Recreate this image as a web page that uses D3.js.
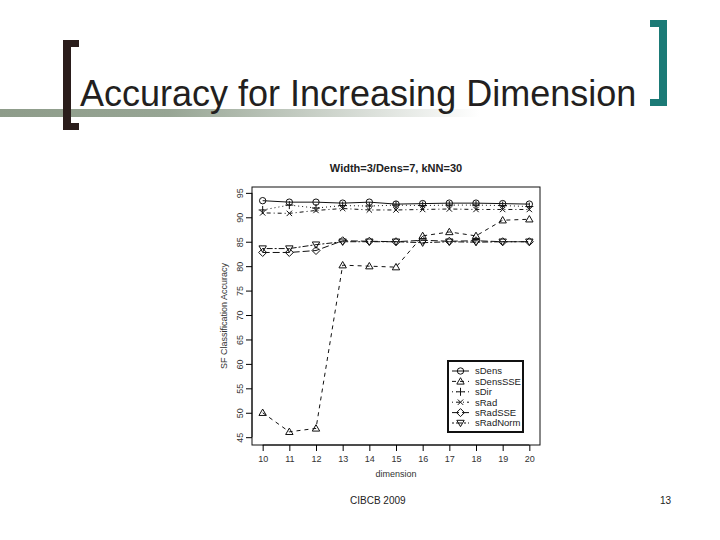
<!DOCTYPE html>
<html><head><meta charset="utf-8">
<script src="https://cdn.jsdelivr.net/npm/d3@7"></script>
<style>body{margin:0;background:#fff}svg{display:block}</style>
</head><body>
<svg id="c" width="720" height="540"></svg>
<script>
const dims = [10,11,12,13,14,15,16,17,18,19,20];
const sDens    = [93.4,93.1,93.1,92.9,93.1,92.7,92.8,92.9,92.9,92.8,92.7];
const sDensSSE = [50.0,46.1,46.8,80.2,80.0,79.8,86.2,87.0,86.2,89.4,89.6];
const sDir     = [91.5,92.5,91.9,92.4,92.3,92.5,92.4,92.5,92.5,92.4,92.2];
const sRad     = [90.9,90.8,91.4,91.8,91.5,91.5,91.6,91.7,91.6,91.6,91.6];
const sRadSSE  = [82.8,82.8,83.2,85.2,85.1,85.0,85.3,85.1,85.2,85.0,85.0];
const sRadNorm = [83.6,83.6,84.4,85.0,85.0,85.0,84.8,85.0,84.9,85.0,85.0];
const seriesNames = ["sDens","sDensSSE","sDir","sRad","sRadSSE","sRadNorm"];
const yTicks = [45,50,55,60,65,70,75,80,85,90,95];
const slideTitle = "Accuracy for Increasing Dimension";
const chartTitle = "Width=3/Dens=7, kNN=30";
const yLabel = "SF Classification Accuracy";
const xLabel = "dimension";
const footerLeft = "CIBCB 2009";
const footerRight = "13";

const seriesValues = [sDens,sDensSSE,sDir,sRad,sRadSSE,sRadNorm];
const dashes = [null,"4,4","1,3","1,3,4,3","7,3","2,2,6,2"];
const shapes = ["circle","triUp","plus","cross","diamond","triDown"];

const svg = d3.select("#c");

// Slide decoration
const defs = svg.append("defs");
const grad = defs.append("linearGradient").attr("id","bar").attr("x1","0").attr("x2","1");
grad.append("stop").attr("offset","0").attr("stop-color","#8e9c8a");
grad.append("stop").attr("offset","0.35").attr("stop-color","#97a594");
grad.append("stop").attr("offset","1").attr("stop-color","#ffffff");
svg.append("rect").attr("x",0).attr("y",109).attr("width",480).attr("height",8).attr("fill","url(#bar)");
// left bracket
const lb = "#2a1d1b";
svg.append("rect").attr("x",63).attr("y",40).attr("width",8).attr("height",90).attr("fill",lb);
svg.append("rect").attr("x",63).attr("y",40).attr("width",16).attr("height",7).attr("fill",lb);
svg.append("rect").attr("x",63).attr("y",123).attr("width",16).attr("height",7).attr("fill",lb);
// right bracket
const rb = "#1b7a76";
svg.append("rect").attr("x",659).attr("y",20).attr("width",8).attr("height",86).attr("fill",rb);
svg.append("rect").attr("x",650).attr("y",20).attr("width",17).attr("height",7).attr("fill",rb);
svg.append("rect").attr("x",650).attr("y",99).attr("width",17).attr("height",7).attr("fill",rb);

svg.append("text").attr("x",80).attr("y",106).attr("font-family","Liberation Sans, Arial, sans-serif")
  .attr("font-size",36).attr("fill","#231f20").text(slideTitle);

svg.append("text").attr("x",350).attr("y",504).attr("font-family","Liberation Sans, Arial, sans-serif")
  .attr("font-size",10).attr("fill","#222").text(footerLeft);
svg.append("text").attr("x",660).attr("y",504).attr("font-family","Liberation Sans, Arial, sans-serif")
  .attr("font-size",10).attr("fill","#222").text(footerRight);

// Chart
const L=252, R=540, T=187, B=445;
const x = d3.scaleLinear().domain([9.6,20.4]).range([L,R]);
const y = d3.scaleLinear().domain([43.4,96.2]).range([B,T]);
const g = svg.append("g").attr("font-family","Liberation Sans, Arial, sans-serif");

g.append("text").attr("x",396).attr("y",172).attr("text-anchor","middle").attr("font-size",11)
  .attr("font-weight","bold").attr("fill","#222").text(chartTitle);

g.append("rect").attr("x",L).attr("y",T).attr("width",R-L).attr("height",B-T)
  .attr("fill","none").attr("stroke","#111").attr("stroke-width",1);

const xAxis = g.append("g").attr("transform",`translate(0,${B})`)
  .call(d3.axisBottom(x).tickValues(dims).tickFormat(d3.format("d")).tickSize(6).tickPadding(5));
xAxis.select(".domain").attr("d",`M${x(10)},0H${x(20)}`).attr("stroke","#111");
xAxis.selectAll("text").attr("font-size",9).attr("fill","#333").attr("font-family","Liberation Sans, Arial, sans-serif");

const yAxis = g.append("g").attr("transform",`translate(${L},0)`)
  .call(d3.axisLeft(y).tickValues(yTicks).tickSize(6).tickFormat(d3.format("d")));
yAxis.select(".domain").attr("d",`M0,${y(45)}V${y(95)}`).attr("stroke","#111");
yAxis.selectAll("text").attr("font-size",9).attr("fill","#333").attr("font-family","Liberation Sans, Arial, sans-serif")
  .attr("text-anchor","middle").attr("dy","0").attr("x",0)
  .attr("transform",d=>`translate(-12,${0}) rotate(-90)`);
yAxis.selectAll(".tick text").each(function(){ d3.select(this).attr("y",0).attr("dy","0.35em"); });

g.append("text").attr("transform",`translate(227,${(T+B)/2}) rotate(-90)`).attr("text-anchor","middle")
  .attr("font-size",9).attr("fill","#333").text(yLabel);
g.append("text").attr("x",396).attr("y",477).attr("text-anchor","middle")
  .attr("font-size",9).attr("fill","#333").text(xLabel);

function symbol(sel, shape, cx, cy){
  const s=3.2;
  const p = sel.append("path").attr("fill","none").attr("stroke","#111").attr("stroke-width",1)
    .attr("transform",`translate(${cx},${cy})`);
  if(shape==="circle") p.attr("d",d3.arc()({innerRadius:0,outerRadius:s,startAngle:0,endAngle:2*Math.PI}));
  if(shape==="triUp") p.attr("d",`M0,${-s-0.5}L${s+0.5},${s-0.5}L${-s-0.5},${s-0.5}Z`);
  if(shape==="triDown") p.attr("d",`M0,${s+0.5}L${s+0.5},${-s+0.5}L${-s-0.5},${-s+0.5}Z`);
  if(shape==="plus") p.attr("d",`M${-s-0.8},0H${s+0.8}M0,${-s-0.8}V${s+0.8}`);
  if(shape==="cross") p.attr("d",`M${-s+0.5},${-s+0.5}L${s-0.5},${s-0.5}M${-s+0.5},${s-0.5}L${s-0.5},${-s+0.5}`);
  if(shape==="diamond") p.attr("d",`M0,${-s-0.8}L${s+0.8},0L0,${s+0.8}L${-s-0.8},0Z`);
}

const line = d3.line().x((d,i)=>x(dims[i])).y(d=>y(d));
seriesValues.forEach((vals,k)=>{
  const sg = g.append("g");
  sg.append("path").attr("d",line(vals)).attr("fill","none").attr("stroke","#111")
    .attr("stroke-width",1).attr("stroke-dasharray",dashes[k]);
  vals.forEach((v,i)=>symbol(sg, shapes[k], x(dims[i]), y(v)));
});

// Legend
const lg = g.append("g");
lg.append("rect").attr("x",448).attr("y",361).attr("width",75).attr("height",71)
  .attr("fill","#fff").attr("stroke","#111").attr("stroke-width",2);
seriesNames.forEach((n,k)=>{
  const ly = 371 + k*10.4;
  lg.append("line").attr("x1",452).attr("x2",469).attr("y1",ly).attr("y2",ly)
    .attr("stroke","#111").attr("stroke-dasharray",dashes[k]);
  symbol(lg, shapes[k], 460.5, ly);
  lg.append("text").attr("x",475).attr("y",ly).attr("dy","0.35em").attr("font-size",9.5)
    .attr("fill","#222").text(n);
});
</script>
</body></html>
